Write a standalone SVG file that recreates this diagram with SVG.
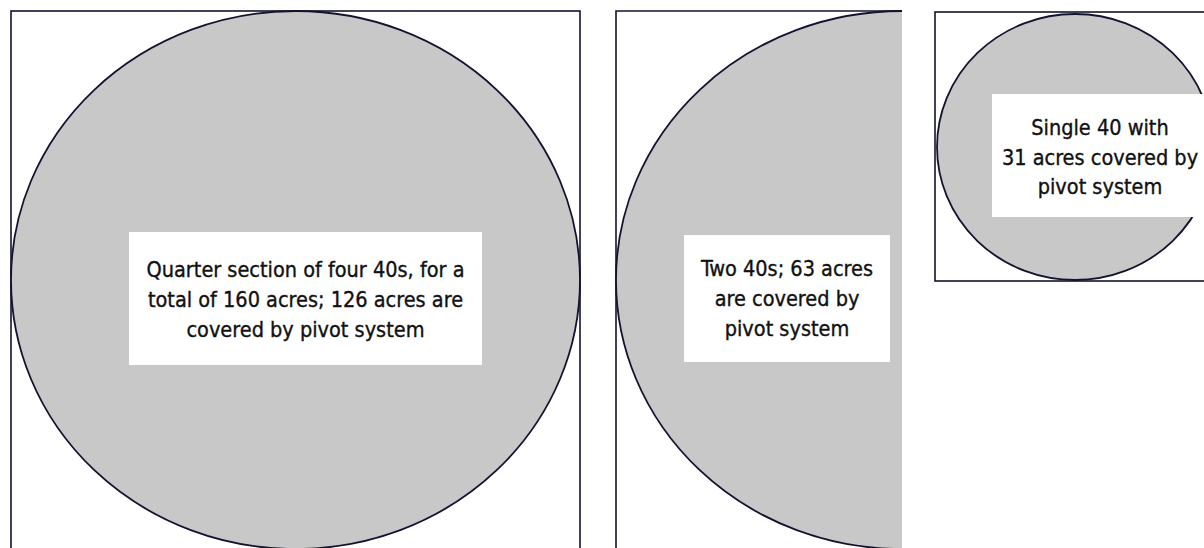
<svg xmlns="http://www.w3.org/2000/svg" width="1204" height="548" viewBox="0 0 1204 548">
<style>
.frame{fill:#ffffff;stroke:#13132e;stroke-width:1.6}
.pivot{fill:#c8c8c8;stroke:#13132e;stroke-width:1.8}
.label-bg{fill:#ffffff;stroke:none}
.label{font-family:"DejaVu Sans Condensed","DejaVu Sans",sans-serif;font-stretch:condensed;font-size:21.5px;fill:#111111;stroke:#111111;stroke-width:0.35;text-anchor:middle}
</style>
<defs>
<clipPath id="clip2"><rect x="600" y="0" width="302" height="548"/></clipPath>
</defs>
<rect width="1204" height="548" fill="#ffffff"/>
<g id="quarter-section">
<rect class="frame" x="11" y="11" width="569" height="560"/>
<ellipse class="pivot" cx="295.5" cy="280" rx="284.5" ry="269"/>
<rect class="label-bg" x="129" y="232" width="353" height="133"/>
<text class="label" x="305.5" y="277">Quarter section of four 40s, for a</text>
<text class="label" x="305.5" y="307">total of 160 acres; 126 acres are</text>
<text class="label" x="305.5" y="337">covered by pivot system</text>
</g>
<g id="two-forties">
<path class="frame" d="M616,560 L616,11 L902,11"/>
<ellipse class="pivot" cx="902" cy="280" rx="286" ry="269" clip-path="url(#clip2)"/>
<rect class="label-bg" x="684" y="235" width="206" height="127"/>
<text class="label" x="787" y="276">Two 40s; 63 acres</text>
<text class="label" x="787" y="306">are covered by</text>
<text class="label" x="787" y="336">pivot system</text>
</g>
<g id="single-forty">
<rect class="frame" x="935" y="12" width="300" height="269"/>
<ellipse class="pivot" cx="1075" cy="147" rx="138" ry="133"/>
<rect class="label-bg" x="992" y="94" width="218" height="123"/>
<text class="label" x="1100" y="135">Single 40 with</text>
<text class="label" x="1100" y="165">31 acres covered by</text>
<text class="label" x="1100" y="194">pivot system</text>
</g>
<g id="connectors"></g>
</svg>
